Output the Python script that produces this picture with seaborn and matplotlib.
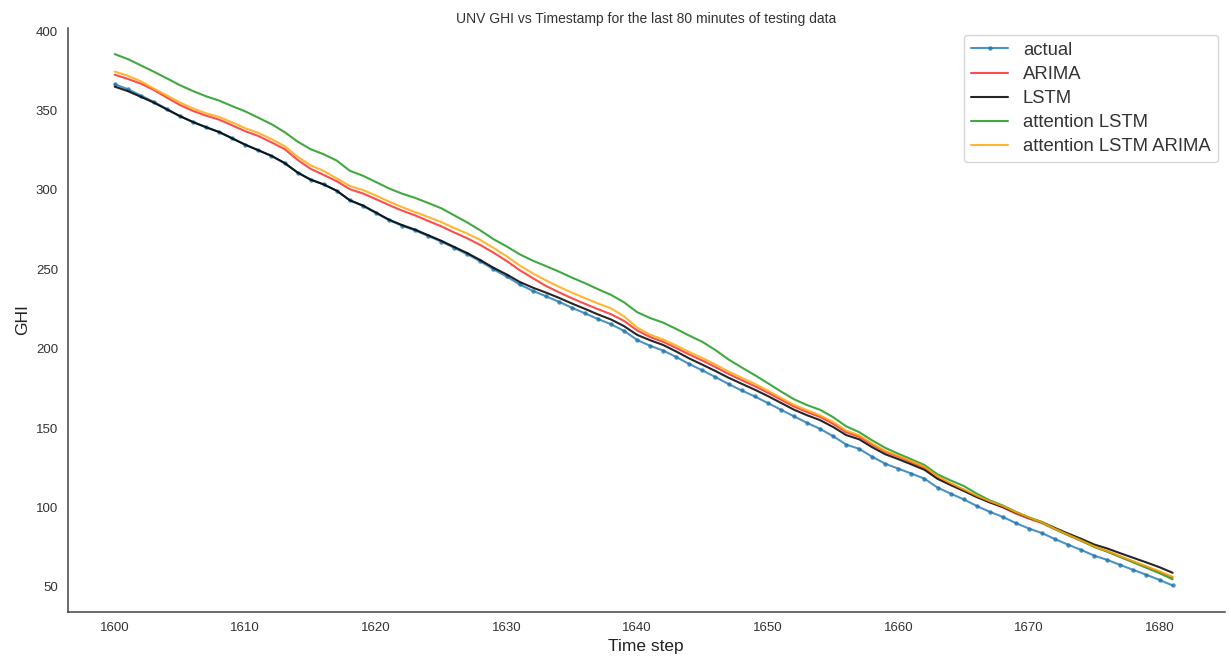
import numpy as np
import pandas as pd
import matplotlib
matplotlib.use("Agg")
import matplotlib.pyplot as plt
import seaborn as sns

time_steps = list(range(1600, 1682))

actual = [366.6, 363.5, 359.5, 355.5, 351.0, 346.5, 342.8, 339.5, 336.5, 332.5,
          328.5, 325.0, 321.5, 317.0, 311.0, 306.5, 303.5, 299.5, 293.5, 290.0,
          285.5, 281.0, 277.5, 274.5, 271.0, 267.5, 263.5, 259.5, 255.0, 250.0,
          245.5, 240.5, 236.5, 233.1, 229.6, 225.8, 222.3, 218.7, 215.4, 211.2,
          205.5, 201.8, 198.8, 194.7, 190.3, 186.3, 182.1, 177.7, 173.7, 169.9,
          165.8, 161.6, 157.4, 153.3, 149.5, 144.9, 139.6, 136.9, 131.9, 127.5,
          124.4, 121.3, 118.1, 112.5, 108.7, 105.1, 100.9, 97.2, 94.0, 90.1,
          86.7, 83.8, 80.0, 76.5, 73.2, 69.6, 66.9, 63.7, 60.6, 57.5,
          54.3, 50.8]

lstm = [365.1, 362.3, 358.7, 355.0, 350.7, 346.5, 342.8, 339.5, 336.5, 332.5,
        328.5, 325.0, 321.5, 317.0, 311.0, 306.5, 303.5, 299.5, 293.5, 290.2,
        285.8, 281.3, 277.9, 275.0, 271.5, 268.0, 264.1, 260.2, 255.8, 251.0,
        246.8, 242.1, 238.5, 235.4, 232.1, 228.5, 225.1, 221.6, 218.4, 214.2,
        208.7, 205.3, 202.3, 198.2, 193.8, 189.9, 185.9, 181.7, 177.9, 174.2,
        170.2, 165.9, 161.6, 158.1, 155.0, 150.7, 145.6, 142.9, 137.9, 133.5,
        130.4, 127.1, 123.7, 118.0, 114.1, 110.4, 106.5, 103.2, 100.3, 96.7,
        93.5, 90.7, 87.0, 83.5, 80.2, 76.6, 74.1, 71.1, 68.2, 65.3,
        62.3, 58.8]

arima = [372.6, 370.0, 367.0, 363.0, 358.2, 353.5, 349.8, 346.8, 344.3, 340.7,
         337.0, 334.0, 330.0, 325.8, 319.0, 313.3, 309.5, 305.5, 300.5, 297.8,
         294.2, 290.5, 287.0, 284.0, 280.5, 277.1, 273.2, 269.5, 265.3, 260.5,
         255.3, 249.5, 244.5, 239.6, 235.6, 231.8, 228.3, 224.9, 221.7, 217.5,
         211.5, 207.3, 204.3, 200.4, 196.3, 192.5, 188.4, 184.1, 180.2, 176.4,
         172.3, 167.9, 163.6, 160.1, 157.0, 152.7, 147.4, 144.5, 139.5, 135.1,
         131.9, 128.5, 125.1, 119.0, 114.9, 111.1, 106.9, 103.2, 100.0, 96.1,
         92.9, 90.1, 86.2, 82.5, 79.0, 75.2, 72.3, 68.9, 65.7, 62.5,
         59.3, 55.8]

att_lstm = [385.6, 382.5, 378.5, 374.5, 370.3, 366.0, 362.3, 359.0, 356.3, 352.8,
            349.5, 345.5, 341.5, 336.5, 330.5, 325.7, 322.5, 318.5, 312.1, 309.0,
            305.0, 301.0, 297.7, 295.0, 291.8, 288.5, 284.0, 279.5, 274.5, 269.0,
            264.5, 259.5, 255.5, 252.1, 248.6, 244.8, 241.3, 237.5, 233.9, 229.2,
            223.0, 219.3, 216.4, 212.4, 208.2, 204.3, 199.1, 193.2, 188.2, 183.4,
            178.3, 173.1, 168.2, 164.5, 161.5, 156.9, 151.1, 147.4, 142.2, 137.5,
            133.8, 130.3, 126.7, 120.8, 117.0, 113.5, 108.7, 104.4, 101.2, 97.2,
            93.7, 90.5, 86.4, 82.6, 79.0, 75.1, 72.1, 68.7, 65.3, 61.9,
            58.5, 54.7]

att_lstm_arima = [374.6, 372.0, 368.5, 363.8, 359.5, 355.1, 351.3, 348.3, 346.0, 342.5,
                  338.9, 336.0, 332.0, 327.7, 321.0, 315.5, 312.0, 307.3, 302.5, 300.0,
                  296.5, 292.7, 289.2, 286.1, 283.0, 279.8, 276.0, 272.5, 268.5, 263.5,
                  258.3, 252.5, 247.5, 243.1, 239.1, 235.3, 231.9, 228.5, 225.4, 220.4,
                  213.3, 208.8, 205.8, 202.0, 197.9, 194.1, 190.0, 185.6, 181.7, 177.9,
                  173.6, 169.1, 164.7, 161.3, 158.0, 153.9, 148.4, 145.4, 140.2, 135.6,
                  132.4, 129.1, 125.6, 119.5, 115.2, 111.3, 107.3, 103.8, 100.8, 97.0,
                  93.7, 90.6, 86.5, 82.8, 79.2, 75.4, 72.5, 69.2, 66.0, 62.9,
                  59.7, 56.3]

series_names = ["actual", "ARIMA", "LSTM", "attention LSTM", "attention LSTM ARIMA"]
x_ticks = [1600, 1610, 1620, 1630, 1640, 1650, 1660, 1670, 1680]
y_ticks = [50, 100, 150, 200, 250, 300, 350, 400]

sns.set_style("white")
plt.rcParams["font.family"] = ["Liberation Sans", "DejaVu Sans"]

fig, ax = plt.subplots(figsize=(12.31, 6.56), dpi=100)
fig.subplots_adjust(left=0.055, right=0.995, top=0.958, bottom=0.067)

sns.lineplot(x=time_steps, y=actual, ax=ax, color="#1f77b4", alpha=0.8,
             marker="o", markersize=3.2, markeredgewidth=0, linewidth=1.5,
             label=series_names[0])
sns.lineplot(x=time_steps, y=arima, ax=ax, color="red", alpha=0.7,
             linewidth=1.5, label=series_names[1])
sns.lineplot(x=time_steps, y=lstm, ax=ax, color="black", alpha=0.85,
             linewidth=1.5, label=series_names[2])
sns.lineplot(x=time_steps, y=att_lstm, ax=ax, color="#2ca02c", alpha=0.9,
             linewidth=1.5, label=series_names[3])
sns.lineplot(x=time_steps, y=att_lstm_arima, ax=ax, color="orange", alpha=0.8,
             linewidth=1.5, label=series_names[4])

ax.set_xlim(1596.4, 1685.0)
ax.set_xticks(x_ticks)
ax.set_yticks(y_ticks)
ax.tick_params(axis="both", labelsize=9.5, colors="#333333")
ax.set_xlabel("Time step", fontsize=12.5, color="#222222")
ax.set_ylabel("GHI", fontsize=12.5, color="#222222")
ax.set_title("UNV GHI vs Timestamp for the last 80 minutes of testing data",
             fontsize=10, color="#333333", pad=3)
sns.despine(ax=ax)
for s in ("left", "bottom"):
    ax.spines[s].set_color("#444444")
    ax.spines[s].set_linewidth(1.1)

leg = ax.legend(loc="upper right", fontsize=13.3, frameon=True,
                labelspacing=0.38, borderaxespad=0.0,
                bbox_to_anchor=(0.994, 0.988))
for t in leg.get_texts():
    t.set_color("#333333")

fig.savefig("out.png", dpi=100)
